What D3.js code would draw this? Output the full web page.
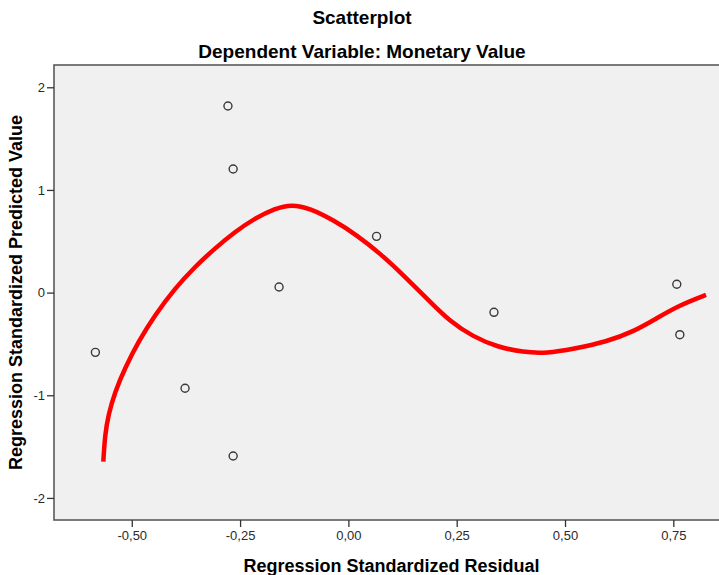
<!DOCTYPE html>
<html>
<head>
<meta charset="utf-8">
<script src="https://cdn.jsdelivr.net/npm/d3@7"></script>
<style>
    body { margin: 0; background: #fff; overflow: hidden; }
    text { font-family: "Liberation Sans", Arial, sans-serif; }
</style>
</head>
<body>
<div id="chart"></div>
<script>
// Scatter points
const residuals = [-0.584, -0.278, -0.266, -0.160, -0.377, -0.266, 0.065, 0.336, 0.758, 0.765];
const predicted = [-0.582, 1.818, 1.204, 0.055, -0.932, -1.592, 0.548, -0.192, 0.081, -0.410];

// Fit line, sampled along the red curve
const fitX = [-0.5657, -0.5618, -0.5542, -0.5387, -0.5158, -0.4849, -0.4464, -0.4002, -0.3541, -0.3079,
              -0.2617, -0.2156, -0.1694, -0.1309, -0.0886, -0.0349, 0.0192, 0.0729, 0.1267, 0.1807,
              0.2345, 0.2883, 0.3423, 0.4037, 0.4577, 0.5191, 0.5962, 0.6576, 0.7116, 0.7654, 0.8254];
const fitY = [-1.647, -1.387, -1.192, -0.965, -0.737, -0.478, -0.218, 0.042, 0.252, 0.432,
              0.593, 0.724, 0.821, 0.860, 0.821, 0.707, 0.561, 0.383, 0.171, -0.056,
              -0.283, -0.430, -0.527, -0.582, -0.591, -0.549, -0.478, -0.381, -0.250, -0.121, -0.023];

// Axis ticks
const xTicks = [-0.5, -0.25, 0, 0.25, 0.5, 0.75];
const yTicks = [-2, -1, 0, 1, 2];

const chartTitle = "Scatterplot",
      chartSubtitle = "Dependent Variable: Monetary Value",
      xTitle = "Regression Standardized Residual",
      yTitle = "Regression Standardized Predicted Value";

// Panel geometry
const svgW = 740, svgH = 575,
      panelL = 54, panelR = 729, panelT = 65, panelB = 520;

const svg = d3.select("#chart").append("svg")
    .attr("width", svgW)
    .attr("height", svgH);

const x = d3.scaleLinear().domain([-0.6795, 0.8785]).range([panelL, panelR]);
const y = d3.scaleLinear().domain([-2.215, 2.217]).range([panelB, panelT]);

// Panel background
svg.append("rect")
    .attr("x", panelL).attr("y", panelT)
    .attr("width", panelR - panelL).attr("height", panelB - panelT)
    .style("fill", "#f0f0f0")
    .style("stroke", "#5a5a5a")
    .style("stroke-width", 1.6);

// Axes
const fmt = d => d3.format(".2f")(d).replace(".", ",").replace("−", "-");

const xAxis = svg.append("g")
    .attr("transform", "translate(0," + panelB + ")")
    .call(d3.axisBottom(x).tickValues(xTicks).tickFormat(fmt).tickSize(7).tickPadding(4));

const yAxis = svg.append("g")
    .attr("transform", "translate(" + panelL + ",0)")
    .call(d3.axisLeft(y).tickValues(yTicks).tickFormat(d => String(d)).tickSize(7).tickPadding(2));

[xAxis, yAxis].forEach(function (g) {
    g.select(".domain").remove();
    g.selectAll("line").style("stroke", "#333").style("stroke-width", 1.3);
    g.selectAll("text")
        .style("font-size", "13px")
        .style("fill", "#2a2a2a");
});

// Fit curve
const line = d3.line()
    .x(function (d, i) { return x(fitX[i]); })
    .y(function (d, i) { return y(fitY[i]); })
    .curve(d3.curveBasis);

svg.append("path")
    .datum(fitX)
    .attr("d", line)
    .style("fill", "none")
    .style("stroke", "#ff0000")
    .style("stroke-width", 4.5);

// Points
svg.append("g")
    .selectAll("circle")
    .data(residuals)
    .enter()
    .append("circle")
    .attr("cx", function (d) { return x(d); })
    .attr("cy", function (d, i) { return y(predicted[i]); })
    .attr("r", 4)
    .style("fill", "none")
    .style("stroke", "#3a3a3a")
    .style("stroke-width", 1.4);

// Titles
svg.append("text")
    .attr("x", 362).attr("y", 23.5)
    .attr("text-anchor", "middle")
    .style("font-size", "19px").style("font-weight", "bold")
    .text(chartTitle);

svg.append("text")
    .attr("x", 362).attr("y", 58)
    .attr("text-anchor", "middle")
    .style("font-size", "19px").style("font-weight", "bold")
    .text(chartSubtitle);

svg.append("text")
    .attr("x", (panelL + panelR) / 2).attr("y", 572)
    .attr("text-anchor", "middle")
    .style("font-size", "18px").style("font-weight", "bold")
    .text(xTitle);

svg.append("text")
    .attr("transform", "translate(21.5," + ((panelT + panelB) / 2) + ") rotate(-90)")
    .attr("text-anchor", "middle")
    .style("font-size", "18px").style("font-weight", "bold")
    .text(yTitle);
</script>
</body>
</html>
